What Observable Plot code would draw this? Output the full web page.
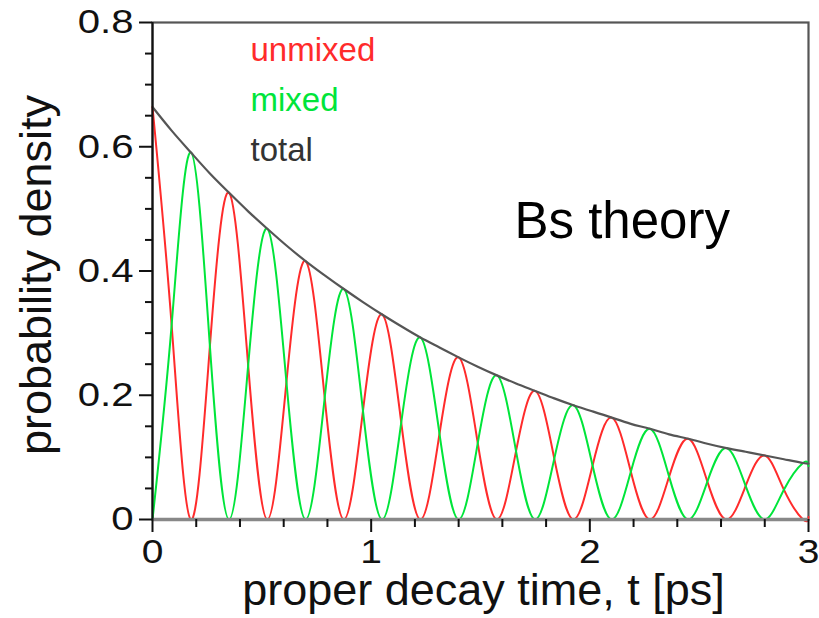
<!DOCTYPE html>
<html><head><meta charset="utf-8">
<script src="https://cdn.jsdelivr.net/npm/d3@7"></script>
<script src="https://cdn.jsdelivr.net/npm/@observablehq/plot@0.6"></script>
<style>
body{margin:0;background:#fff;}
#chart svg{display:block;}
</style>
</head><body><div id="chart"></div>
<script>
const time = [0, 0.0875, 0.175, 0.2625, 0.35, 0.4375, 0.525, 0.6125, 0.7, 0.7875, 0.875, 0.9625,
  1.05, 1.1375, 1.225, 1.3125, 1.4, 1.4875, 1.575, 1.6625, 1.75, 1.8375, 1.925, 2.0125,
  2.1, 2.1875, 2.275, 2.3625, 2.45, 2.5375, 2.625, 2.7125, 2.8, 2.8875, 2.975, 3.0];
const total = [0.664, 0.626, 0.591, 0.557, 0.526, 0.496, 0.468, 0.441, 0.416, 0.393, 0.371, 0.350,
  0.330, 0.311, 0.293, 0.277, 0.261, 0.246, 0.232, 0.219, 0.207, 0.195, 0.184, 0.174,
  0.164, 0.154, 0.146, 0.137, 0.130, 0.122, 0.115, 0.109, 0.103, 0.097, 0.091, 0.090];
const unmixed = [0.664, 0.313, 0, 0.279, 0.526, 0.248, 0, 0.221, 0.416, 0.196, 0, 0.175,
  0.330, 0.156, 0, 0.138, 0.261, 0.123, 0, 0.110, 0.207, 0.098, 0, 0.087,
  0.164, 0.077, 0, 0.069, 0.130, 0.061, 0, 0.054, 0.103, 0.048, 0, 0.004];
const mixed = [0, 0.313, 0.591, 0.279, 0, 0.248, 0.468, 0.221, 0, 0.196, 0.371, 0.175,
  0, 0.156, 0.293, 0.138, 0, 0.123, 0.232, 0.110, 0, 0.098, 0.184, 0.087,
  0, 0.077, 0.146, 0.069, 0, 0.061, 0.115, 0.054, 0, 0.048, 0.091, 0.086];

const xTicks = [0, 1, 2, 3];
const xMinorTicks = [0.2, 0.4, 0.6, 0.8, 1.2, 1.4, 1.6, 1.8, 2.2, 2.4, 2.6, 2.8];
const yTicks = [0, 0.2, 0.4, 0.6, 0.8];
const yMinorTicks = [0.05, 0.1, 0.15, 0.25, 0.3, 0.35, 0.45, 0.5, 0.55, 0.65, 0.7, 0.75];
const legendLabels = ["unmixed", "mixed", "total"];
const legendColors = ["#ff2b2b", "#00e53a", "#444444"];
const xLabel = "proper decay time, t [ps]";
const yLabel = "probability density";
const annotation = "Bs theory";

const rows = time.map((t, i) => ({t, total: total[i], unmixed: unmixed[i], mixed: mixed[i]}));
const FONT = "'Liberation Sans', Arial, Helvetica, sans-serif";

const chart = Plot.plot({
  width: 819,
  height: 618,
  marginLeft: 152,
  marginRight: 11,
  marginTop: 22,
  marginBottom: 99,
  style: {fontFamily: FONT, background: "#fff", color: "#111", overflow: "visible"},
  x: {domain: [0, 3], axis: null, label: null},
  y: {domain: [0, 0.8], axis: null, label: null},
  marks: [
    Plot.frame({stroke: "#555", strokeWidth: 2.2}),
    Plot.line(rows, {x: "t", y: "unmixed", stroke: legendColors[0], strokeWidth: 2, curve: "natural"}),
    Plot.line(rows, {x: "t", y: "mixed", stroke: legendColors[1], strokeWidth: 2, curve: "natural"}),
    Plot.line(rows, {x: "t", y: "total", stroke: "#555", strokeWidth: 2.2, curve: "natural"}),
    Plot.ruleY([0], {stroke: "#888", strokeWidth: 3.5}),
    Plot.ruleX([0], {stroke: "#111", strokeWidth: 2}),
    // axes
    Plot.axisY({ticks: yTicks, tickSize: 13, tickPadding: 6, strokeWidth: 2, fontSize: 34, label: null,
      tickFormat: d => d === 0 ? "0" : d.toFixed(1)}),
    Plot.axisY({ticks: yMinorTicks, tickSize: 7, strokeWidth: 2, label: null, tickFormat: () => ""}),
    Plot.axisX({ticks: xTicks, tickSize: 13, tickPadding: 7, strokeWidth: 2, fontSize: 33, label: null,
      tickFormat: d => String(d)}),
    Plot.axisX({ticks: xMinorTicks, tickSize: 8, strokeWidth: 2, label: null, tickFormat: () => ""}),
    // axis titles
    Plot.text([xLabel], {frameAnchor: "bottom", text: d => d, textAnchor: "middle", dx: 3, dy: 85, lineAnchor: "bottom",
      fontSize: 45, fill: "#111"}),
    Plot.text([yLabel], {frameAnchor: "left", text: d => d, textAnchor: "middle", rotate: -90, dx: -102, dy: 4,
      lineAnchor: "bottom", fontSize: 45, fill: "#111"}),
    // legend
    ...legendLabels.map((lab, i) => Plot.text([lab], {frameAnchor: "top-left", text: d => d, textAnchor: "start",
      lineAnchor: "bottom", dx: 98, dy: 38 + i * 50, fontSize: 33, fill: i === 2 ? "#333" : legendColors[i]})),
    // annotation
    Plot.text([annotation], {frameAnchor: "top-left", text: d => d, textAnchor: "start", lineAnchor: "bottom",
      dx: 362, dy: 215, fontSize: 51, fill: "#000"})
  ]
});

chart.querySelectorAll('g[aria-label$="tick label"] text').forEach(t => {
  const tr = t.getAttribute("transform");
  if (tr) t.setAttribute("transform", tr + " scale(1.18,1)");
});
document.getElementById("chart").appendChild(chart);
</script>
</body></html>
